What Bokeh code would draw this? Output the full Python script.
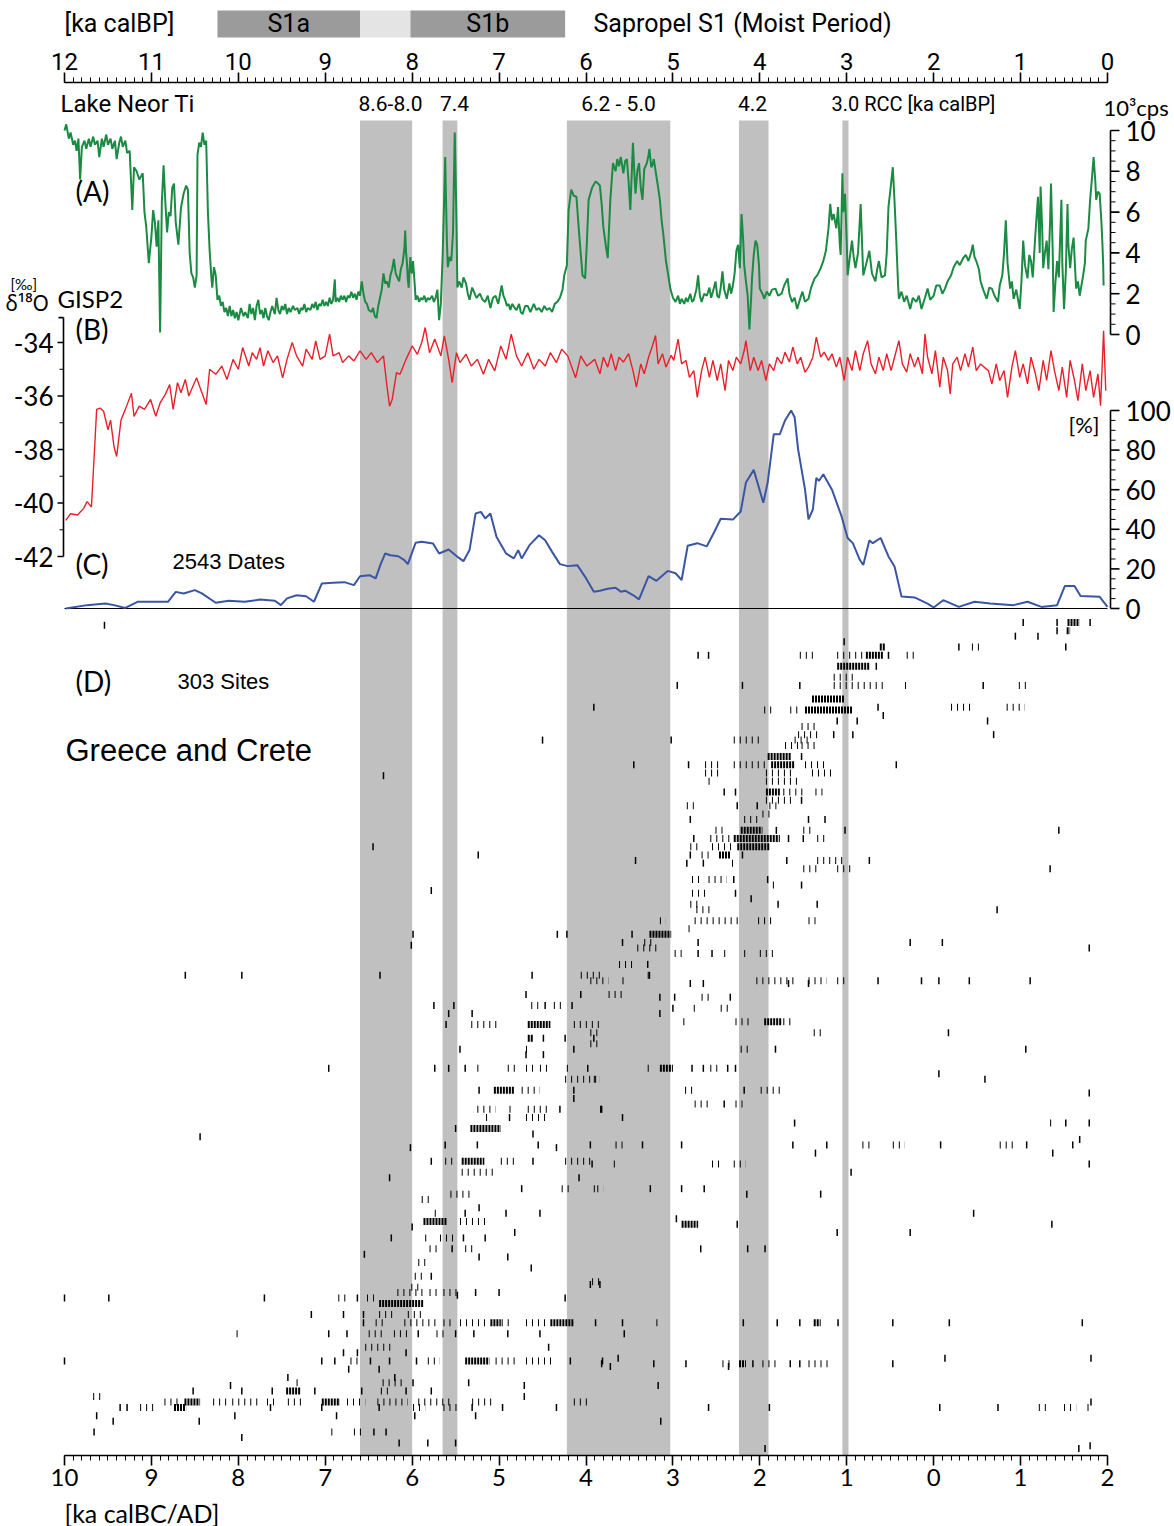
import numpy as np
from bokeh.plotting import figure
from bokeh.layouts import column
from bokeh.models import Range1d, LinearAxis, FixedTicker
from bokeh.core.properties import value
from bokeh.embed import file_html
from bokeh.resources import INLINE

# ------------------------------------------------------------------ data
# Sapropel S1 bar (ka calBP)
s1_names = ["S1a", "", "S1b"]
s1_from_bp = [10.24, 8.60, 8.02]
s1_to_bp = [8.60, 8.02, 6.24]

# RCC bands (ka calBP)
rcc_from_bp = [8.60, 7.65, 6.22, 4.24, 3.05]
rcc_to_bp = [8.00, 7.48, 5.03, 3.90, 2.98]

# axis ticks
bp_ticks = list(range(0, 13))
adbc_ticks = list(range(-10, 3))
ti_ticks = [0, 2, 4, 6, 8, 10]
d18o_ticks = [-34, -36, -38, -40, -42]
pct_ticks = [0, 20, 40, 60, 80, 100]

# (A) Lake Neor Ti  (ka calBP, 10^3 cps)
ti_series = [
    (12.00, 10.0), (11.98, 10.3), (11.95, 9.6), (11.93, 9.9), (11.90, 9.3), (11.88, 9.5), (11.86, 9.0),
    (11.84, 9.6), (11.82, 7.6), (11.80, 9.2), (11.77, 9.5), (11.75, 9.1), (11.72, 9.6), (11.70, 9.2),
    (11.67, 9.7), (11.65, 9.3), (11.62, 9.5), (11.60, 8.7), (11.57, 9.6), (11.55, 9.2), (11.52, 9.8),
    (11.50, 9.3), (11.47, 9.6), (11.45, 9.1), (11.42, 9.5), (11.40, 8.6), (11.37, 9.4), (11.35, 9.7),
    (11.33, 9.2), (11.30, 9.5), (11.28, 8.9), (11.25, 9.0), (11.22, 6.1), (11.20, 8.2), (11.17, 8.0),
    (11.14, 7.6), (11.10, 7.9), (11.08, 6.0), (11.06, 5.3), (11.03, 3.5), (11.00, 4.8), (10.98, 6.1),
    (10.96, 5.5), (10.94, 4.3), (10.92, 5.6), (10.90, 0.1), (10.88, 6.5), (10.86, 8.3), (10.84, 6.5),
    (10.82, 5.0), (10.80, 6.0), (10.78, 5.8), (10.76, 7.2), (10.74, 7.4), (10.72, 5.5), (10.69, 4.4),
    (10.66, 6.2), (10.63, 6.9), (10.60, 7.3), (10.58, 7.1), (10.56, 4.0), (10.54, 3.0), (10.52, 2.8),
    (10.50, 2.3), (10.48, 2.9), (10.47, 8.8), (10.45, 9.4), (10.43, 9.2), (10.41, 9.9), (10.39, 9.3),
    (10.37, 9.5), (10.35, 6.0), (10.33, 4.1), (10.31, 2.8), (10.30, 2.3), (10.28, 3.3), (10.26, 2.9),
    (10.24, 1.7), (10.22, 1.9), (10.20, 1.4), (10.18, 1.6), (10.16, 1.1), (10.14, 1.3), (10.12, 0.9),
    (10.10, 1.4), (10.08, 0.9), (10.06, 1.2), (10.04, 0.8), (10.02, 1.1), (10.00, 0.7), (9.97, 1.3),
    (9.94, 0.9), (9.92, 1.1), (9.89, 0.8), (9.87, 1.5), (9.85, 1.0), (9.83, 1.3), (9.81, 0.7),
    (9.79, 1.4), (9.77, 1.7), (9.75, 1.0), (9.73, 1.2), (9.71, 0.8), (9.69, 1.3), (9.67, 0.9),
    (9.65, 0.7), (9.63, 1.1), (9.61, 1.4), (9.58, 1.0), (9.56, 1.8), (9.54, 1.2), (9.52, 1.0),
    (9.50, 1.4), (9.48, 1.2), (9.46, 1.5), (9.44, 1.0), (9.42, 1.3), (9.40, 1.1), (9.37, 1.4),
    (9.35, 1.2), (9.32, 1.3), (9.30, 1.0), (9.28, 1.3), (9.26, 1.2), (9.24, 1.5), (9.22, 1.1),
    (9.20, 1.3), (9.17, 1.2), (9.15, 1.5), (9.13, 1.3), (9.11, 1.6), (9.09, 1.2), (9.07, 1.5),
    (9.05, 1.4), (9.03, 1.7), (9.01, 1.4), (8.99, 1.6), (8.97, 1.4), (8.95, 1.8), (8.93, 1.5),
    (8.91, 1.7), (8.89, 2.7), (8.88, 1.6), (8.86, 1.8), (8.84, 1.6), (8.82, 1.9), (8.80, 1.7),
    (8.78, 1.9), (8.76, 1.6), (8.74, 1.9), (8.72, 1.8), (8.70, 2.1), (8.68, 1.8), (8.66, 2.0),
    (8.64, 1.7), (8.62, 2.1), (8.60, 1.9), (8.58, 2.6), (8.56, 2.0), (8.54, 1.6), (8.52, 1.5),
    (8.50, 1.2), (8.47, 1.1), (8.45, 1.3), (8.43, 0.9), (8.41, 0.8), (8.39, 1.4), (8.37, 1.8),
    (8.35, 2.2), (8.33, 3.0), (8.31, 2.5), (8.29, 2.6), (8.27, 2.3), (8.25, 2.9), (8.23, 3.2),
    (8.21, 3.7), (8.19, 3.0), (8.17, 2.8), (8.15, 2.6), (8.13, 3.2), (8.11, 3.5), (8.09, 4.2),
    (8.08, 5.1), (8.07, 4.0), (8.06, 3.5), (8.05, 2.7), (8.04, 2.3), (8.03, 3.2), (8.02, 3.8),
    (8.01, 3.1), (8.00, 3.0), (7.99, 3.6), (7.97, 2.4), (7.96, 1.7), (7.94, 1.9), (7.92, 1.6),
    (7.90, 1.8), (7.88, 1.7), (7.86, 1.9), (7.84, 1.6), (7.82, 1.8), (7.80, 1.7), (7.77, 1.9),
    (7.75, 1.6), (7.73, 1.8), (7.71, 2.2), (7.69, 0.7), (7.67, 1.5), (7.65, 3.8), (7.63, 7.0),
    (7.62, 8.7), (7.61, 6.5), (7.60, 4.5), (7.59, 3.3), (7.57, 3.8), (7.55, 3.6), (7.53, 5.0),
    (7.52, 7.5), (7.51, 9.9), (7.50, 7.8), (7.49, 5.5), (7.48, 2.3), (7.46, 2.6), (7.43, 2.3),
    (7.41, 2.8), (7.38, 2.5), (7.36, 2.0), (7.34, 1.7), (7.31, 2.3), (7.29, 2.1), (7.26, 1.8),
    (7.22, 2.0), (7.19, 1.7), (7.16, 1.6), (7.13, 1.9), (7.10, 1.3), (7.07, 1.8), (7.04, 1.9),
    (7.01, 1.5), (6.97, 2.4), (6.95, 1.9), (6.93, 1.7), (6.91, 1.4), (6.89, 1.5), (6.87, 1.2),
    (6.85, 1.5), (6.82, 1.3), (6.80, 1.2), (6.77, 1.5), (6.75, 1.1), (6.73, 1.0), (6.70, 1.4),
    (6.67, 1.4), (6.64, 1.1), (6.60, 1.5), (6.57, 1.2), (6.54, 1.3), (6.51, 1.1), (6.48, 1.4),
    (6.45, 1.2), (6.42, 1.3), (6.39, 1.1), (6.36, 1.5), (6.33, 1.6), (6.30, 1.8), (6.27, 2.2),
    (6.25, 2.9), (6.22, 3.4), (6.20, 6.1), (6.17, 7.1), (6.14, 6.8), (6.11, 6.75), (6.08, 5.0),
    (6.04, 2.9), (6.01, 2.75), (5.99, 4.5), (5.97, 6.6), (5.93, 7.2), (5.89, 7.5), (5.86, 7.4),
    (5.84, 7.3), (5.82, 6.4), (5.80, 5.25), (5.77, 4.3), (5.75, 3.75), (5.72, 6.6), (5.69, 8.4),
    (5.66, 8.0), (5.64, 8.6), (5.62, 8.25), (5.60, 8.7), (5.57, 7.9), (5.55, 8.5), (5.53, 8.6),
    (5.51, 7.5), (5.49, 6.1), (5.47, 8.3), (5.46, 9.4), (5.44, 7.6), (5.43, 6.9), (5.41, 8.0),
    (5.39, 8.4), (5.37, 7.2), (5.35, 6.6), (5.33, 8.1), (5.30, 8.4), (5.28, 8.8), (5.27, 9.1),
    (5.25, 8.2), (5.24, 8.25), (5.22, 8.6), (5.19, 7.75), (5.17, 7.2), (5.15, 6.6), (5.13, 5.6),
    (5.11, 4.9), (5.08, 3.6), (5.05, 2.8), (5.03, 2.25), (5.00, 1.8), (4.97, 1.6), (4.94, 1.9),
    (4.92, 1.5), (4.90, 1.75), (4.87, 1.5), (4.85, 1.8), (4.83, 1.6), (4.80, 2.0), (4.78, 1.6),
    (4.76, 1.7), (4.73, 2.2), (4.71, 2.9), (4.69, 1.9), (4.67, 1.6), (4.64, 2.0), (4.61, 1.9),
    (4.58, 2.3), (4.56, 1.8), (4.54, 2.1), (4.51, 2.6), (4.49, 1.9), (4.47, 1.8), (4.45, 2.3),
    (4.43, 3.1), (4.41, 2.2), (4.38, 1.75), (4.35, 2.5), (4.33, 2.0), (4.31, 2.4), (4.29, 3.0),
    (4.27, 4.1), (4.25, 4.4), (4.23, 3.25), (4.21, 5.9), (4.19, 4.5), (4.18, 3.4), (4.16, 2.6),
    (4.14, 1.9), (4.12, 0.25), (4.10, 1.8), (4.09, 2.75), (4.07, 3.9), (4.05, 4.6), (4.03, 4.4),
    (4.01, 3.4), (4.00, 2.25), (3.97, 2.0), (3.95, 1.75), (3.92, 2.1), (3.89, 1.9), (3.86, 2.2),
    (3.82, 2.25), (3.79, 1.9), (3.75, 2.0), (3.72, 2.4), (3.68, 2.75), (3.66, 2.0), (3.63, 1.6),
    (3.60, 1.8), (3.57, 1.25), (3.54, 1.7), (3.51, 2.1), (3.48, 1.6), (3.44, 1.75), (3.41, 2.3),
    (3.37, 2.75), (3.34, 2.9), (3.30, 3.25), (3.27, 3.6), (3.24, 4.1), (3.21, 5.2), (3.19, 6.4),
    (3.17, 5.6), (3.15, 5.9), (3.12, 5.2), (3.10, 6.25), (3.08, 4.4), (3.07, 3.9), (3.05, 7.9),
    (3.04, 6.0), (3.02, 6.9), (3.00, 4.5), (2.99, 2.9), (2.97, 3.6), (2.94, 4.6), (2.92, 3.8),
    (2.90, 3.25), (2.87, 4.0), (2.84, 6.4), (2.82, 4.0), (2.81, 2.9), (2.78, 3.4), (2.74, 4.1),
    (2.71, 3.0), (2.67, 2.6), (2.65, 3.2), (2.63, 3.6), (2.60, 2.8), (2.56, 2.9), (2.54, 4.0),
    (2.52, 6.25), (2.50, 7.0), (2.47, 8.2), (2.45, 6.5), (2.43, 4.6), (2.41, 2.5), (2.40, 1.75),
    (2.37, 2.1), (2.34, 1.6), (2.31, 1.9), (2.27, 1.25), (2.24, 1.8), (2.20, 1.6), (2.17, 1.9),
    (2.14, 1.25), (2.10, 1.8), (2.07, 2.25), (2.04, 1.7), (2.00, 1.9), (1.97, 2.4), (1.93, 2.4),
    (1.90, 2.0), (1.87, 2.25), (1.84, 2.6), (1.80, 2.9), (1.77, 3.3), (1.73, 3.6), (1.70, 3.4),
    (1.66, 3.75), (1.63, 3.9), (1.60, 3.6), (1.57, 4.0), (1.55, 4.4), (1.53, 3.8), (1.51, 3.6),
    (1.48, 3.2), (1.46, 2.6), (1.43, 2.2), (1.39, 1.75), (1.36, 2.3), (1.33, 2.25), (1.30, 1.9),
    (1.26, 1.6), (1.24, 2.4), (1.21, 2.9), (1.19, 4.0), (1.17, 5.6), (1.15, 3.5), (1.12, 2.25),
    (1.10, 2.6), (1.08, 1.75), (1.05, 2.2), (1.01, 1.25), (0.99, 2.6), (0.97, 4.6), (0.95, 3.4),
    (0.92, 2.75), (0.90, 3.9), (0.88, 3.6), (0.86, 2.8), (0.83, 4.9), (0.80, 6.75), (0.78, 4.0),
    (0.77, 7.25), (0.75, 5.0), (0.74, 3.25), (0.72, 4.0), (0.70, 4.6), (0.68, 3.2), (0.66, 5.6),
    (0.65, 7.4), (0.63, 4.0), (0.62, 1.1), (0.60, 2.5), (0.58, 3.6), (0.56, 2.8), (0.53, 6.6),
    (0.52, 3.5), (0.50, 1.25), (0.48, 3.0), (0.46, 6.4), (0.45, 4.4), (0.43, 3.25), (0.41, 4.2),
    (0.39, 4.75), (0.37, 3.0), (0.36, 2.25), (0.34, 2.6), (0.32, 1.9), (0.30, 2.4), (0.28, 2.9),
    (0.26, 3.5), (0.25, 4.6), (0.22, 5.2), (0.20, 6.6), (0.18, 7.6), (0.16, 8.7), (0.14, 7.5),
    (0.13, 6.6), (0.11, 7.0), (0.09, 6.9), (0.07, 5.5), (0.06, 4.6), (0.05, 3.5), (0.045, 2.4),
]

# (B) GISP2 delta18O (ka calBP, permil)
gisp_bp = [
    11.985, 11.93, 11.85, 11.78, 11.74, 11.69, 11.63, 11.59, 11.55, 11.50, 11.47, 11.43, 11.40, 11.35,
    11.30, 11.23, 11.20, 11.14, 11.08, 11.01, 10.95, 10.90, 10.84, 10.79, 10.75, 10.70, 10.66, 10.61,
    10.57, 10.53, 10.48, 10.44, 10.37, 10.33, 10.26, 10.19, 10.13, 10.06, 10.00, 9.95, 9.88, 9.84,
    9.79, 9.75, 9.71, 9.66, 9.60, 9.55, 9.49, 9.44, 9.38, 9.33, 9.26, 9.22, 9.15, 9.11, 9.06, 9.00,
    8.95, 8.91, 8.84, 8.80, 8.73, 8.67, 8.60, 8.53, 8.47, 8.40, 8.33, 8.29, 8.26, 8.23, 8.18, 8.14,
    8.07, 8.00, 7.94, 7.89, 7.85, 7.80, 7.74, 7.67, 7.63, 7.58, 7.54, 7.49, 7.45, 7.38, 7.32, 7.25,
    7.18, 7.12, 7.05, 6.98, 6.92, 6.86, 6.80, 6.74, 6.67, 6.60, 6.54, 6.47, 6.41, 6.34, 6.28, 6.21,
    6.12, 6.06, 5.99, 5.90,
    5.84, 5.80, 5.75, 5.71, 5.66, 5.62, 5.57, 5.51, 5.46, 5.42, 5.37, 5.33, 5.28, 5.24, 5.20, 5.17,
    5.12, 5.08, 5.02, 4.99, 4.94, 4.90, 4.85, 4.81, 4.76, 4.72, 4.67, 4.63, 4.58, 4.54, 4.49, 4.45,
    4.40, 4.36, 4.31, 4.27, 4.22, 4.18, 4.16, 4.11, 4.07, 4.02, 3.98, 3.93, 3.89, 3.84, 3.80, 3.75,
    3.71, 3.66, 3.62, 3.57, 3.53, 3.48, 3.44, 3.39, 3.35, 3.30, 3.26, 3.21, 3.17, 3.12, 3.08, 3.03,
    2.99, 2.94, 2.90, 2.85, 2.81, 2.76, 2.72, 2.67, 2.63, 2.58, 2.54, 2.49, 2.45, 2.40, 2.36, 2.31,
    2.27, 2.22, 2.18, 2.13, 2.10, 2.07, 2.02, 1.98, 1.93, 1.89, 1.84, 1.81, 1.78, 1.73, 1.69, 1.64,
    1.60, 1.55, 1.51, 1.46, 1.42, 1.37, 1.33, 1.28, 1.24, 1.19, 1.15, 1.10, 1.06, 1.01, 0.97, 0.92,
    0.88, 0.83, 0.79, 0.74, 0.70, 0.65, 0.61, 0.56, 0.52, 0.47, 0.43, 0.38, 0.34, 0.29, 0.25, 0.20,
    0.16, 0.11, 0.08, 0.045, 0.02,
]
gisp_d18o = [
    -40.65, -40.4, -40.45, -40.2, -39.95, -40.15, -36.5, -36.45, -36.57, -37.26, -36.9, -37.9, -38.26,
    -36.9, -36.5, -35.9, -36.76, -36.38, -36.5, -36.13, -36.76, -36.26, -35.94, -35.57, -36.5, -35.5,
    -35.88, -35.38, -36.0, -35.69, -35.32, -35.69, -36.32, -35.0, -35.19, -34.88, -35.38, -34.63, -35.0,
    -34.19, -34.88, -34.38, -34.63, -34.19, -34.88, -34.31, -34.75, -34.5, -35.32, -34.63, -34.0, -34.5,
    -34.88, -34.25, -34.63, -33.94, -34.63, -34.5, -33.69, -34.5, -34.38, -34.75, -34.5, -34.69, -34.31,
    -34.63, -34.38, -34.75, -34.5, -35.63, -36.38, -36.13, -35.13, -35.19, -34.63, -34.13, -34.44, -34.0,
    -33.44, -34.38, -33.87, -34.5, -33.75, -34.63, -35.5, -34.38, -34.75, -34.44, -34.88, -34.63, -35.19,
    -34.63, -35.06, -34.13, -34.63, -33.69, -34.5, -34.88, -34.38, -35.0, -34.63, -34.88, -34.38, -34.75,
    -34.25, -34.5, -35.32, -34.5, -34.88, -34.63,
    -35.17, -34.55, -34.92, -34.42, -35.05, -34.55, -34.73, -34.42, -35.05, -35.67, -34.8, -35.17, -34.55,
    -34.17, -33.74, -34.8, -34.42, -34.92, -34.48, -34.67, -33.87, -34.8, -34.67, -35.3, -35.05, -36.05,
    -35.05, -34.55, -35.3, -34.67, -35.42, -34.8, -35.8, -34.67, -35.05, -34.55, -34.8, -34.3, -33.93,
    -35.05, -34.55, -35.05, -34.67, -35.42, -34.8, -35.05, -34.55, -34.8, -34.36, -34.73, -34.17, -34.8,
    -34.55, -35.11, -34.92, -34.55, -33.8, -34.55, -34.36, -34.67, -34.42, -34.92, -34.55, -35.42, -34.55,
    -35.05, -34.3, -35.05, -34.42, -33.93, -34.8, -35.17, -34.55, -35.05, -34.42, -35.05, -34.55, -33.93,
    -34.8, -35.11, -34.42, -34.92, -34.55, -35.17, -33.68, -34.55, -35.17, -34.3, -35.67, -34.55, -35.05,
    -35.92, -34.8, -34.55, -35.05, -34.42, -34.92, -34.17, -35.05, -34.8, -34.92, -35.05, -35.55, -34.8,
    -35.42, -35.05, -36.05, -34.92, -34.3, -35.3, -34.8, -35.55, -34.55, -35.17, -35.8, -34.67, -35.42,
    -34.3, -35.05, -35.8, -34.92, -36.05, -34.67, -35.42, -36.17, -34.8, -35.8, -35.05, -36.05, -35.17,
    -36.36, -33.56, -35.8,
]

# (C) summed 14C dates, 2543 dates (ka calBP, %)
dates_series = [
    (11.985, 0.0), (11.74, 1.7), (11.53, 2.5), (11.43, 1.7), (11.30, 0.3), (11.16, 3.4), (10.99, 3.4),
    (10.81, 3.4), (10.72, 8.4), (10.63, 7.6), (10.50, 9.3), (10.42, 7.6), (10.26, 2.9), (10.11, 3.9),
    (9.93, 3.4), (9.75, 4.5), (9.58, 3.9), (9.51, 1.7), (9.44, 5.1), (9.33, 6.7), (9.22, 6.2),
    (9.13, 3.4), (9.04, 12.6), (8.91, 13.0), (8.78, 13.3), (8.67, 11.8), (8.60, 16.3), (8.49, 16.8),
    (8.42, 15.2), (8.36, 22.7), (8.31, 27.8), (8.25, 26.9), (8.16, 26.4), (8.09, 24.4), (8.05, 22.4),
    (7.96, 33.2), (7.89, 33.7), (7.76, 32.8), (7.69, 27.8), (7.58, 29.8), (7.47, 25.8), (7.41, 23.9),
    (7.34, 29.5), (7.27, 48.0), (7.21, 48.8), (7.16, 45.5), (7.10, 48.0), (7.03, 36.2), (6.92, 27.8),
    (6.83, 25.3), (6.78, 29.5), (6.74, 25.3), (6.65, 32.0), (6.54, 37.0), (6.47, 34.5), (6.39, 28.6),
    (6.30, 22.4), (6.21, 21.4), (6.10, 21.9), (6.01, 16.0), (5.91, 8.5), (5.84, 9.0), (5.75, 10.0),
    (5.66, 10.5), (5.60, 8.5), (5.55, 9.0), (5.46, 6.8), (5.39, 4.6), (5.28, 16.4), (5.19, 14.0),
    (5.06, 19.0), (4.97, 17.8), (4.90, 14.4), (4.83, 31.7), (4.72, 33.0), (4.61, 31.4), (4.52, 39.0),
    (4.45, 45.3), (4.31, 44.9), (4.22, 49.0), (4.16, 63.6), (4.07, 70.0), (3.96, 53.4), (3.91, 63.6),
    (3.84, 88.0), (3.77, 88.0), (3.71, 95.0), (3.64, 100.0), (3.60, 96.6), (3.56, 80.5), (3.48, 60.0),
    (3.44, 45.0), (3.39, 50.0), (3.35, 66.0), (3.32, 64.4), (3.27, 67.8), (3.17, 60.0), (3.06, 46.6),
    (2.99, 35.6), (2.93, 33.0), (2.85, 24.6), (2.81, 22.0), (2.74, 34.4), (2.70, 33.0), (2.61, 35.6),
    (2.52, 26.3), (2.45, 21.2), (2.37, 6.0), (2.22, 5.6), (2.07, 2.5), (2.00, 0.5), (1.89, 4.2),
    (1.71, 0.8), (1.53, 3.4), (1.35, 2.5), (1.08, 1.7), (0.92, 3.4), (0.76, 0.8), (0.58, 1.7),
    (0.49, 11.4), (0.38, 11.4), (0.31, 6.3), (0.09, 5.9), (0.00, 0.8),
]

# (D) 303 sites: single dates (site rank, ka BC/AD)
site_single = [
    (302, -9.54), (272, -3.91), (260, -4.50), (247, -6.33), (221, -6.45), (218, -5.24), (205, -5.78),
    (189, -5.99), (189, -4.33), (189, -4.22), (185, -6.01), (174, -8.61), (174, -7.96), (174, -6.37),
    (174, -4.62), (167, -4.69), (167, -4.06), (163, -5.75), (163, -5.52), (163, -4.47), (163, -4.16),
    (160, -5.58), (160, -5.31), (156, -5.61),
    (303, 1.03), (303, 1.42), (303, 1.80), (300, 1.42), (298, 0.94), (298, 1.20), (296, -1.03),
    (294, 0.29), (294, 1.52), (291, -2.71), (291, -2.59), (291, -0.52), (287, -0.66), (280, -2.95),
    (280, -2.20), (280, -1.54), (280, 0.57), (272, -0.64), (269, -0.58), (267, -1.11), (267, -0.88),
    (267, 0.62), (262, -1.15), (262, -0.93), (262, 0.69), (260, -3.02), (254, -1.52), (251, -3.45),
    (251, -2.82), (251, -0.43), (241, -2.41), (241, -2.28), (238, -1.52), (236, -2.26), (236, -2.03),
    (231, -2.80), (231, -1.44), (231, -1.25), (227, -1.81), (227, -1.02), (227, 1.44), (224, -2.76),
    (224, -1.67), (224, -1.50), (218, -2.80), (218, -2.20), (216, -3.43), (216, -1.69), (216, -0.74),
    (215, -2.84), (215, -2.65), (213, 1.34), (209, -2.30), (209, -1.91), (207, -1.52), (204, -2.28),
    (202, -2.10), (200, -1.79), (200, -1.34), (198, 0.73), (189, -3.47), (186, -3.58), (186, -2.71),
    (186, -0.27), (186, 0.10), (184, 1.79), (182, -2.71), (182, -2.55), (178, -3.29), (174, -3.27),
    (172, -0.64), (172, -0.14), (172, 0.06), (172, 0.41), (172, 1.11), (171, -2.80), (171, -2.65),
    (171, -1.67), (171, -1.44), (166, -3.15), (166, -2.98), (166, -2.34), (162, -3.00), (160, -3.15),
    (153, 0.17),
    (147, -1.82), (147, 1.06), (140, -2.78), (140, -2.65), (140, -2.37), (140, -2.28), (138, 0.06),
    (136, 0.59), (132, -2.18), (131, 1.79), (127, -2.41), (125, -3.82), (122, -3.58), (120, -1.60),
    (120, 1.52), (120, 1.79), (114, 1.68), (112, -3.95), (112, -3.35), (112, -2.90), (112, -1.62),
    (112, -1.23), (112, 0.08), (112, 1.07), (112, 1.60), (109, -1.36), (109, 1.37), (105, -3.93),
    (105, 1.79), (102, -0.95), (96, -3.26), (96, -2.90), (96, -2.64), (94, -2.15), (94, -1.30),
    (87, 0.46), (85, -2.96), (83, -2.26), (83, 1.36), (80, -1.11), (80, -0.27), (74, -2.68),
    (74, -2.14), (74, -1.94), (61, -3.95), (61, -3.84), (47, -3.89), (47, -3.58), (47, -2.19),
    (47, -1.80), (47, -1.54), (47, -1.10), (47, -0.47), (47, 0.18), (47, 1.71), (43, -3.56),
    (34, -3.63), (34, 0.13), (34, 1.81), (32, -3.82), (32, -3.22), (32, -2.85), (32, -2.08),
    (32, -1.65), (32, -1.54), (32, -0.47), (31, -3.72), (31, -2.36), (24, -3.17), (18, 1.81),
    (16, -2.59), (16, -1.89), (16, 0.07), (16, 0.74), (11, -3.14), (2, 1.80), (1, -1.94), (1, 1.67),
    (151, -4.49), (151, -4.24), (151, -3.91), (147, -5.45), (147, -4.14), (145, -4.69), (145, -4.49),
    (140, -6.96), (140, -5.74), (140, -5.58), (140, -5.39), (140, -3.98), (132, -5.23), (132, -4.14),
    (129, -4.14), (125, -4.30), (125, -3.83), (122, -4.88), (118, -5.50), (116, -4.61), (115, -8.44),
    (112, -5.62), (112, -5.25), (112, -4.55), (111, -6.02), (111, -4.34), (106, -5.78), (106, -4.61),
    (100, -6.26), (100, -4.08), (96, -4.74), (89, -5.23), (87, -5.39), (87, -4.92), (87, -4.53),
    (82, -6.00), (80, -4.82), (78, -6.24), (78, -5.41), (78, -5.16), (74, -5.54), (72, -6.55),
    (71, -5.23), (71, -4.90), (67, -4.63), (64, -5.78), (58, -5.27), (58, -5.00), (57, -5.48),
    (56, -10.0), (56, -9.49), (56, -7.70), (56, -6.63), (56, -4.24), (50, -7.16), (50, -6.79),
    (50, -6.56), (47, -6.56), (43, -6.96), (43, -6.75), (43, -5.93), (43, -5.50), (43, -5.29),
    (43, -4.90), (43, -4.53), (38, -4.43), (36, -6.79), (36, -6.63), (36, -6.07), (33, -10.0),
    (33, -7.04), (33, -6.89), (33, -6.48), (33, -6.26), (33, -5.95), (33, -4.18), (33, -3.81),
    (30, -6.73), (30, -6.38), (27, -7.43), (27, -6.20), (25, -5.99), (25, -5.35), (24, -8.09),
    (24, -4.71), (22, -8.52), (22, -7.96), (22, -7.61), (22, -7.12), (22, -6.58), (22, -6.07),
    (22, -5.78), (20, -4.71), (16, -9.36), (16, -9.28), (16, -7.63), (16, -7.04), (16, -6.38),
    (16, -5.31), (16, -4.96), (16, -4.34), (13, -9.63), (13, -8.04), (13, -6.87), (13, -5.97),
    (13, -5.27), (11, -9.44), (11, -8.45), (7, -9.66), (7, -6.44), (7, -6.30), (5, -7.96),
    (3, -6.15), (3, -5.82), (3, -5.50),
]

# (D) series of dates at one site (site rank, from, to in ka BC/AD)
site_runs = [
    (291, -1.54, -1.34), (291, -1.11, -0.82), (291, -0.31, -0.21), (294, 0.44, 0.57), (283, -1.15, -0.90),
    (280, -1.15, -0.58), (280, -0.33, -0.27), (280, 0.98, 1.09), (272, 0.20, 0.47), (272, 0.84, 1.05),
    (271, -1.95, -1.83), (271, -1.65, -1.52), (265, -1.52, -1.32), (262, -1.56, -1.32), (260, -2.30, -1.97),
    (260, -1.60, -1.40), (258, -1.71, -1.56), (258, -1.52, -1.32), (251, -2.63, -2.47), (251, -2.30, -1.89),
    (251, -1.48, -1.23), (248, -2.63, -2.47), (248, -1.93, -1.64), (248, -1.40, -1.15), (245, -2.59, -2.55),
    (245, -1.93, -1.52), (241, -1.73, -1.48), (241, -1.36, -1.28), (238, -1.93, -1.60), (236, -2.84, -2.76),
    (236, -1.89, -1.81), (233, -1.97, -1.85), (231, -2.18, -2.02), (227, -2.51, -2.43), (227, -1.50, -1.38),
    (224, -2.57, -2.34), (224, -1.34, -1.25), (221, -2.80, -2.71), (221, -2.55, -2.30), (218, -2.67, -2.59),
    (216, -1.34, -1.03), (215, -2.32, -2.28), (213, -1.50, -1.32), (213, -1.11, -0.93), (209, -2.78, -2.67),
    (209, -2.59, -2.38), (207, -1.85, -1.79), (204, -2.78, -2.63), (200, -2.80, -2.71), (198, -2.73, -2.57),
    (194, -3.15, -3.08), (194, -2.75, -2.22), (194, -2.02, -1.85), (194, -1.44, -1.36), (191, -2.82, -2.78),
    (186, -3.33, -3.21), (184, -3.41, -3.15), (182, -2.98, -2.90), (182, -2.41, -2.36), (182, -2.18, -2.14),
    (182, -2.00, -1.85), (178, -3.62, -3.45), (174, -3.29, -3.25), (172, -3.95, -3.74), (172, -3.58, -3.54),
    (172, -2.04, -1.58), (172, -1.44, -1.23), (172, -1.11, -0.99), (167, -3.74, -3.58), (166, -2.67, -2.55),
    (162, -2.76, -2.71), (162, -2.45, -2.34), (157, -2.88, -2.82), (157, -2.28, -2.08), (157, -1.73, -1.60),
    (153, -3.95, -3.87), (153, -1.38, -1.25),
    (149, -3.95, -3.87), (147, -2.22, -2.10), (140, -3.29, -3.25), (140, -2.57, -2.49), (136, -3.91, -3.84),
    (132, -2.86, -2.73), (132, -1.99, -1.75), (127, -2.75, -2.55), (127, -2.28, -2.20), (120, 1.34, 1.36),
    (112, -3.66, -3.58), (112, -0.82, -0.70), (112, -0.47, -0.33), (112, 0.76, 0.92), (105, -3.68, -3.64),
    (105, -2.55, -2.45), (105, -2.30, -2.16), (96, -3.87, -3.80), (47, -3.19, -3.15), (32, -2.43, -2.30),
    (32, -1.97, -1.79), (32, -1.44, -1.21), (16, 1.21, 1.33), (16, 1.50, 1.64), (16, 1.77, 1.81),
    (174, -4.06, -3.81), (163, -4.63, -4.55), (163, -4.37, -4.24), (156, -5.32, -5.02), (156, -4.14, -3.85),
    (147, -4.69, -4.65), (140, -5.25, -5.21), (140, -4.90, -4.78), (140, -4.69, -4.61), (140, -4.53, -4.41),
    (140, -4.22, -4.18), (136, -4.24, -3.87), (132, -4.74, -4.53), (125, -5.25, -5.04), (125, -4.88, -4.82),
    (125, -4.67, -4.45), (122, -5.15, -5.10), (122, -4.69, -4.45), (106, -5.62, -5.50), (106, -4.98, -4.82),
    (106, -4.24, -3.95), (102, -5.43, -5.02), (96, -4.28, -4.20), (96, -3.91, -3.87), (94, -5.56, -5.29),
    (92, -5.89, -5.76), (87, -5.74, -5.68), (84, -5.45, -5.15), (78, -5.85, -5.80), (78, -5.68, -5.52),
    (74, -5.80, -5.68), (74, -5.39, -5.27), (69, -5.93, -5.85), (64, -5.97, -5.87), (62, -3.93, -3.83),
    (60, -6.01, -5.93), (58, -6.17, -5.85), (58, -5.80, -5.68), (58, -5.64, -5.48), (56, -6.85, -6.75),
    (56, -6.52, -6.44), (50, -6.38, -6.21), (50, -6.05, -5.87), (47, -6.42, -6.30), (47, -6.09, -5.72),
    (47, -5.64, -5.54), (47, -5.45, -5.12), (47, -4.97, -4.86), (47, -4.69, -4.45), (43, -8.02, -7.98),
    (43, -6.50, -6.34), (43, -6.21, -6.05), (43, -5.72, -5.64), (38, -6.54, -6.21), (33, -6.71, -6.58),
    (33, -5.82, -5.68), (33, -5.04, -4.82), (33, -4.69, -4.37), (25, -7.33, -7.27), (25, -6.34, -6.09),
    (22, -6.36, -6.28), (20, -9.67, -9.54), (18, -8.85, -8.70), (18, -8.29, -8.11), (18, -8.07, -7.78),
    (18, -7.67, -7.59), (18, -7.43, -7.28), (18, -6.75, -6.54), (18, -6.40, -6.05), (18, -5.93, -5.56),
    (18, -5.31, -5.06), (18, -4.14, -3.99), (16, -9.13, -8.93), (16, -5.99, -5.85), (16, -5.64, -5.48),
    (7, -6.93, -6.87), (7, -6.67, -6.56),
]

# (D) densely dated stretches (site rank, from, to in ka BC/AD)
site_dense = [
    (303, 1.54, 1.68), (300, 1.53, 1.57), (294, -0.62, -0.56), (291, -0.78, -0.58), (287, -1.11, -0.74),
    (275, -1.40, -1.03), (271, -1.48, -0.93), (254, -1.91, -1.64), (251, -1.87, -1.60), (241, -1.93, -1.77),
    (227, -2.22, -1.97), (224, -2.30, -1.77), (221, -2.26, -1.89), (218, -2.47, -2.34), (189, -3.27, -3.02),
    (157, -1.95, -1.75), (140, -3.15, -3.00), (83, -2.90, -2.71), (47, -1.38, -1.30), (32, -2.24, -2.16),
    (156, -4.67, -4.41), (151, -4.67, -4.61), (132, -5.06, -4.82), (118, -5.33, -4.98), (106, -5.43, -5.17),
    (84, -5.87, -5.60), (54, -6.38, -5.87), (47, -5.10, -4.98), (47, -4.41, -4.14), (33, -5.39, -5.11),
    (22, -7.45, -7.28), (18, -8.62, -8.44), (18, -7.04, -6.83), (16, -8.74, -8.60),
]

# ------------------------------------------------------------------ layout
W = 1174
TOP_H, CAP_H = 40, 30
MAIN_H = 1526 - TOP_H - CAP_H
FRAME_TOP, FRAME_BOT = 82, 1455          # page pixels of the main frame
X_LEFT_PX, X_RIGHT_PX = 64, 1107         # page pixels of 10 ka BC and 2 ka AD
SCALE = (X_RIGHT_PX - X_LEFT_PX) / 12.0
AD0 = -10 - X_LEFT_PX / SCALE
AD1 = 2 + (W - X_RIGHT_PX) / SCALE

NARROW = "Roboto"
MYRIAD = "Lato"
ARIAL = "Liberation Sans"

GREEN, RED, BLUE, BAND = "#1b8a43", "#e8202a", "#3a55a4", "#c0c0c0"


def yrange(va, pa, vb, pb):
    k = (vb - va) / (pb - pa)
    return Range1d(start=va + (FRAME_BOT - pa) * k, end=va + (FRAME_TOP - pa) * k)


def put(fig, x, y, s, size, font, align="left", xr="px", yr=None, baseline="middle"):
    kw = {}
    if xr:
        kw["x_range_name"] = xr
    if yr:
        kw["y_range_name"] = yr
    fig.text(x=[x], y=[y], text=[s], text_font=value(font), text_font_size=f"{size}px",
             text_align=align, text_baseline=baseline, text_color="black", **kw)


def style_fig(f):
    f.outline_line_color = None
    f.background_fill_color = "white"
    f.border_fill_color = "white"
    f.grid.visible = False


# ------------------------------------------------------------------ top strip (Sapropel S1)
top = figure(width=W, height=TOP_H, x_range=Range1d(2 - AD0, 2 - AD1), y_range=Range1d(TOP_H, 0),
             x_axis_location=None, y_axis_location=None, toolbar_location=None,
             output_backend="svg", min_border=0)
style_fig(top)
top.extra_x_ranges = {"px": Range1d(0, W)}
top.quad(left=s1_from_bp, right=s1_to_bp, top=10, bottom=37,
         fill_color=["#9b9b9b", "#e4e4e4", "#9b9b9b"], line_color=None)
for name, a, b in zip(s1_names, s1_from_bp, s1_to_bp):
    if name:
        put(top, (a + b) / 2, 23, name, 25, NARROW, align="center", xr=None)
put(top, 64, 23, "[ka calBP]", 25, NARROW)
put(top, 593, 23, "Sapropel S1 (Moist Period)", 25, NARROW)

# ------------------------------------------------------------------ main figure
p = figure(width=W, height=MAIN_H, x_range=Range1d(AD0, AD1), y_range=Range1d(FRAME_BOT, FRAME_TOP),
           x_axis_location="below", y_axis_location=None, toolbar_location=None,
           output_backend="svg", min_border_left=0, min_border_right=0,
           min_border_top=FRAME_TOP - TOP_H, min_border_bottom=TOP_H + MAIN_H - FRAME_BOT)
style_fig(p)
p.extra_x_ranges = {"bp": Range1d(2 - AD0, 2 - AD1), "px": Range1d(0, W)}
p.extra_y_ranges = {
    "ti": yrange(0, 334, 10, 130),
    "d18o": yrange(-34, 342, -42, 556),
    "pct": yrange(0, 608, 100, 410),
    "site": yrange(1, 1448, 303, 622),
}


def style_axis(ax):
    ax.axis_line_width = 1.6
    ax.major_tick_line_width = 1.6
    ax.minor_tick_line_width = 1
    ax.major_tick_out = 10
    ax.major_tick_in = 0
    ax.minor_tick_out = 5
    ax.minor_tick_in = 0
    ax.major_label_standoff = 3
    ax.major_label_text_font = MYRIAD
    ax.major_label_text_font_size = "24px"
    ax.major_label_text_color = "black"


# bottom axis: ka calBC/AD
xa = p.xaxis[0]
xa.ticker = FixedTicker(ticks=adbc_ticks,
                        minor_ticks=[round(v, 1) for v in np.arange(adbc_ticks[0], adbc_ticks[-1] + 0.01, 0.1)])
xa.bounds = (adbc_ticks[0], adbc_ticks[-1])
xa.major_label_overrides = {t: str(abs(t)) for t in adbc_ticks}
style_axis(xa)

# top axis: ka calBP
ta = LinearAxis(x_range_name="bp",
                ticker=FixedTicker(ticks=bp_ticks,
                                   minor_ticks=[round(v, 1) for v in np.arange(0, 12.01, 0.1)]),
                bounds=(0, 12))
style_axis(ta)
ta.major_label_text_font = NARROW
p.add_layout(ta, "above")

# RCC bands
p.quad(left=rcc_from_bp, right=rcc_to_bp, top=120, bottom=FRAME_BOT, x_range_name="bp",
       fill_color=BAND, line_color=None)

# (A) Ti
ti_bp, ti_val = map(list, zip(*ti_series))
p.line(ti_bp, ti_val, x_range_name="bp", y_range_name="ti", line_color=GREEN, line_width=2)

# (B) GISP2
p.line(gisp_bp, gisp_d18o, x_range_name="bp", y_range_name="d18o", line_color=RED, line_width=1.4)

# (C) dates
dates_bp, dates_pct = map(list, zip(*dates_series))
p.segment(x0=[adbc_ticks[0]], x1=[adbc_ticks[-1]], y0=[0], y1=[0], y_range_name="pct",
          line_color="black", line_width=1)
p.line(dates_bp, dates_pct, x_range_name="bp", y_range_name="pct", line_color=BLUE, line_width=2)

# (D) sites
s_rank, s_ad = map(list, zip(*site_single))
p.rect(x=s_ad, y=s_rank, width=1.5, height=7, width_units="screen", height_units="screen",
       y_range_name="site", fill_color="black", line_color=None)
r_rank, r_from, r_to = map(list, zip(*site_runs))
p.segment(x0=r_from, x1=r_to, y0=r_rank, y1=r_rank, y_range_name="site",
          line_color="black", line_width=7, line_dash="1 5", line_cap="butt")
d_rank, d_from, d_to = map(list, zip(*site_dense))
p.segment(x0=d_from, x1=d_to, y0=d_rank, y1=d_rank, y_range_name="site",
          line_color="black", line_width=7, line_dash="2 1", line_cap="butt")


# hand-placed vertical axes inside the frame
def vaxis(yname, lo, hi, majors, minor_step, x_line, side, label_x, align, major_len=9, minor_len=5):
    sgn = -1 if side == "left" else 1
    p.segment(x0=[x_line], x1=[x_line], y0=[lo], y1=[hi], x_range_name="px", y_range_name=yname,
              line_color="black", line_width=1.6)
    p.segment(x0=[x_line] * len(majors), x1=[x_line + sgn * major_len] * len(majors), y0=majors, y1=majors,
              x_range_name="px", y_range_name=yname, line_color="black", line_width=1.6)
    minors = [round(v, 3) for v in np.arange(min(majors), max(majors) + 1e-9, minor_step)
              if all(abs(v - m) > 1e-6 for m in majors) and lo - 1e-9 <= v <= hi + 1e-9]
    p.segment(x0=[x_line] * len(minors), x1=[x_line + sgn * minor_len] * len(minors), y0=minors, y1=minors,
              x_range_name="px", y_range_name=yname, line_color="black", line_width=1)
    p.text(x=[label_x] * len(majors), y=majors, text=[str(m) for m in majors], x_range_name="px",
           y_range_name=yname, text_font=value(MYRIAD), text_font_size="26px",
           text_align=align, text_baseline="middle", text_color="black")


vaxis("d18o", -42, -33.07, d18o_ticks, 1, 63, "left", 53, "right", major_len=6, minor_len=4)
# small cap at the upper end of the delta18O axis
p.segment(x0=[63], x1=[58], y0=[-33.07], y1=[-33.07], x_range_name="px", y_range_name="d18o",
          line_color="black", line_width=1.6)
vaxis("ti", 0, 10, ti_ticks, 0.5, 1110, "right", 1125, "left")
vaxis("pct", 0, 100, pct_ticks, 5, 1110, "right", 1125, "left")

# labels
put(p, 60, 103, "Lake Neor Ti", 24, NARROW)
put(p, 390, 103, "8.6-8.0", 21, NARROW, align="center")
put(p, 454, 103, "7.4", 21, NARROW, align="center")
put(p, 618, 103, "6.2 - 5.0", 21, NARROW, align="center")
put(p, 752, 103, "4.2", 21, NARROW, align="center")
put(p, 831, 103, "3.0 RCC [ka calBP]", 20, NARROW)
put(p, 1103, 107, "10³cps", 22, MYRIAD)
put(p, 75, 190, "(A)", 28, MYRIAD)
put(p, 10, 283, "[‰]", 15, MYRIAD)
put(p, 5, 302, "δ¹⁸O", 21, "Noto Sans")
put(p, 57, 298, "GISP2", 24, MYRIAD)
put(p, 75, 328, "(B)", 28, MYRIAD)
put(p, 1068, 424, "[%]", 22, MYRIAD)
put(p, 75, 563, "(C)", 28, MYRIAD)
put(p, 172, 561, "2543 Dates", 22, ARIAL)
put(p, 75, 680, "(D)", 28, MYRIAD)
put(p, 177, 681, "303 Sites", 22, ARIAL)
put(p, 65, 750, "Greece and Crete", 31, ARIAL)

# ------------------------------------------------------------------ caption strip
cap = figure(width=W, height=CAP_H, x_range=Range1d(0, W), y_range=Range1d(CAP_H, 0),
             x_axis_location=None, y_axis_location=None, toolbar_location=None,
             output_backend="svg", min_border=0)
style_fig(cap)
put(cap, 64, 16, "[ka calBC/AD]", 25, MYRIAD, xr=None)

layout = column(top, p, cap, spacing=0)
open("out.html", "w").write(file_html(layout, INLINE))
